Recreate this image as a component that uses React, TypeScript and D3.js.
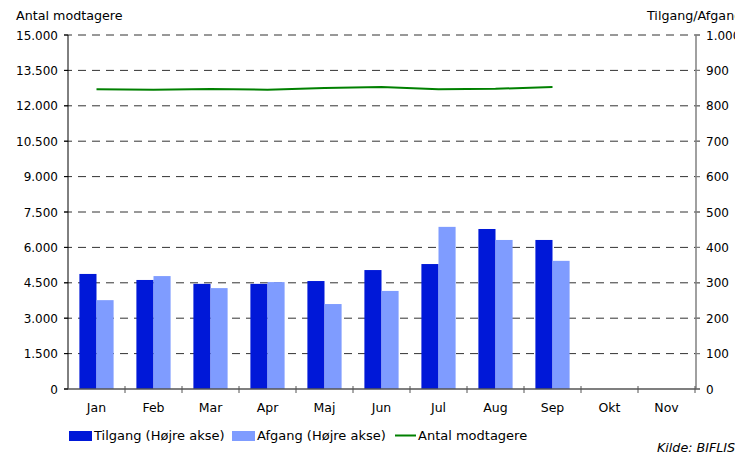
import { scaleBand, scaleLinear, line } from "d3";

const months = ["Jan", "Feb", "Mar", "Apr", "Maj", "Jun", "Jul", "Aug", "Sep", "Okt", "Nov"];
// Tilgang / Afgang read on the right axis
const tilgang = [325, 308, 297, 297, 305, 336, 353, 452, 421];
const afgang = [251, 319, 285, 302, 240, 277, 458, 421, 362];
// Antal modtagere on the left axis
const modtagere = [12700, 12680, 12710, 12680, 12750, 12800, 12700, 12720, 12800];
const leftTicks = [0, 1500, 3000, 4500, 6000, 7500, 9000, 10500, 12000, 13500, 15000];
const rightTicks = [0, 100, 200, 300, 400, 500, 600, 700, 800, 900, 1000];

const fmt = (v: number) => v.toLocaleString("de-DE");
const FONT = "'DejaVu Sans', Verdana, sans-serif";

export default function App() {
  const left = 68;
  const right = 695;
  const top = 35;
  const bottom = 389;

  const x = scaleBand<string>().domain(months).range([left, right]).paddingInner(0.4).paddingOuter(0.2);
  const xs = scaleBand<string>().domain(["t", "a"]).range([0, x.bandwidth()]);
  const yL = scaleLinear().domain([0, 15000]).range([bottom, top]);
  const yR = scaleLinear().domain([0, 1000]).range([bottom, top]);
  const center = (m: string) => (x(m) ?? 0) + x.bandwidth() / 2;
  const step = x.step();

  const path = line<number>()
    .x((_, i) => center(months[i]))
    .y((d) => yL(d))(modtagere);

  return (
    <svg
      width={750}
      height={453}
      style={{ position: "absolute", left: 0, top: 0, background: "#fff" }}
      fontFamily={FONT}
      fontSize={12}
    >
      <defs>
        <clipPath id="frame">
          <rect x={0} y={0} width={735} height={453} />
        </clipPath>
      </defs>
      <g clipPath="url(#frame)">
        {/* gridlines */}
        {leftTicks.slice(1).map((t) => (
          <line key={t} x1={left - 4} x2={right + 5} y1={yL(t)} y2={yL(t)} stroke="#333" strokeDasharray="8,6" />
        ))}

        {/* bars */}
        {tilgang.map((v, i) => (
          <rect key={"t" + i} x={(x(months[i]) ?? 0) + (xs("t") ?? 0)} y={yR(v)} width={xs.bandwidth()} height={bottom - yR(v)} fill="#0018D8" />
        ))}
        {afgang.map((v, i) => (
          <rect key={"a" + i} x={(x(months[i]) ?? 0) + (xs("a") ?? 0)} y={yR(v)} width={xs.bandwidth()} height={bottom - yR(v)} fill="#7F9CFF" />
        ))}

        {/* line */}
        <path d={path ?? ""} fill="none" stroke="#008000" strokeWidth={2} />

        {/* axes */}
        <line x1={left} x2={left} y1={top} y2={bottom} stroke="#000" />
        <line x1={right + 1} x2={right + 1} y1={top} y2={bottom} stroke="#808080" strokeWidth={1.5} />
        <line x1={left - 4} x2={right + 5} y1={bottom} y2={bottom} stroke="#555" strokeWidth={1.5} />
        {leftTicks.map((t) => (
          <g key={"l" + t}>
            <line x1={left - 4} x2={left} y1={yL(t)} y2={yL(t)} stroke="#000" />
            <text x={58} y={yL(t) + 4.5} textAnchor="end" fill="#000">{fmt(t)}</text>
          </g>
        ))}
        {rightTicks.map((t) => (
          <g key={"r" + t}>
            <line x1={right} x2={right + 5} y1={yR(t)} y2={yR(t)} stroke="#808080" />
            <text x={706} y={yR(t) + 4.5} fill="#000">{fmt(t)}</text>
          </g>
        ))}
        {months.map((m, i) => (
          <g key={m}>
            <line x1={left + step * (i + 1)} x2={left + step * (i + 1)} y1={bottom - 3} y2={bottom + 4} stroke="#555" />
            <text x={center(m)} y={412} textAnchor="middle" fill="#000" fontSize={12.5}>{m}</text>
          </g>
        ))}

        {/* titles */}
        <text x={16} y={20} fill="#000" fontSize={12.7}>Antal modtagere</text>
        <text x={647} y={20} fill="#000" fontSize={12.7}>Tilgang/Afgang</text>

        {/* legend */}
        <g fontSize={13}>
          <rect x={69} y={431} width={23} height={10} fill="#0018D8" />
          <text x={94} y={440} fill="#000">Tilgang (Højre akse)</text>
          <rect x={232} y={431} width={23} height={10} fill="#7F9CFF" />
          <text x={257} y={440} fill="#000">Afgang (Højre akse)</text>
          <line x1={395} x2={416} y1={435.5} y2={435.5} stroke="#008000" strokeWidth={2} />
          <text x={418} y={440} fill="#000">Antal modtagere</text>
        </g>

        <text x={657} y={452} fontStyle="italic" fill="#000" fontSize={12.7}>Kilde: BIFLIS</text>
      </g>
    </svg>
  );
}
